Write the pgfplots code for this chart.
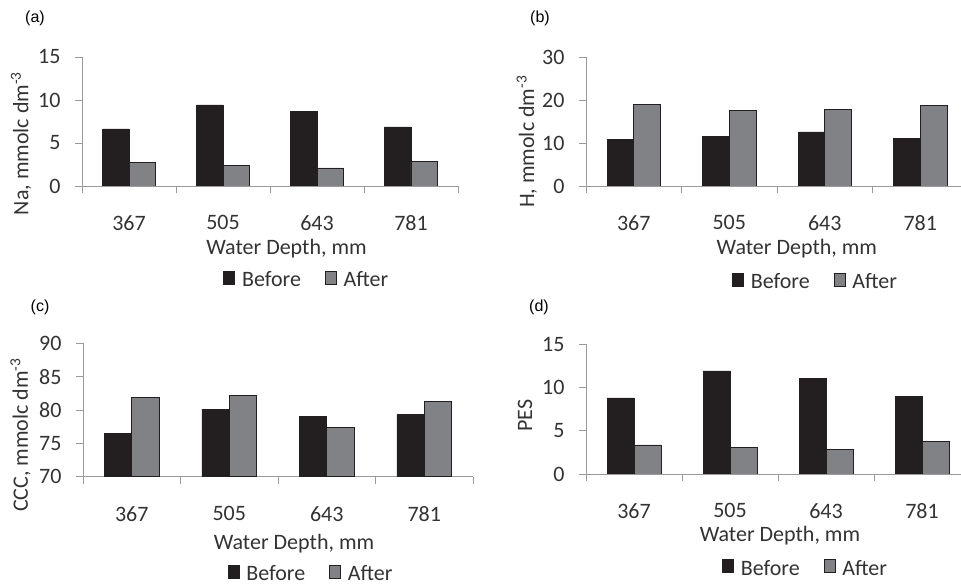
\documentclass[border=0pt]{standalone}
\usepackage{pgfplots}
\pgfplotsset{compat=1.18}
\usepackage{fontspec}
\setmainfont{Carlito}
\newfontfamily\arialfont{Liberation Sans}
\definecolor{before}{HTML}{231F20}
\definecolor{after}{HTML}{818285}
\definecolor{axisgray}{HTML}{9A9A9A}
\definecolor{txt}{HTML}{333333}
\newcommand\fs{\fontsize{22}{26}\selectfont}
\newcommand\pl{\arialfont\fontsize{16}{18}\selectfont}

\pgfplotsset{
 panel/.style={
   scale only axis, anchor=south west,
   xmin=-0.5, xmax=3.5,
   xtick={0,1,2,3}, xticklabels={367,505,643,781},
   minor xtick={-0.5,0.5,1.5,2.5,3.5},
   major tick length=0pt, minor tick length=7pt, tick align=outside,
   axis x line*=bottom, axis y line*=left,
   axis line style={draw=axisgray, line width=0.8pt, -},
   tick style={draw=axisgray, line width=0.8pt},
   tick label style={font=\fs, text=txt},
   xticklabel style={yshift=-26pt},
   yticklabel style={xshift=-18pt},
   /pgf/number format/assume math mode=true,
   label style={font=\fs, text=txt},
   xlabel={Water Depth, mm},
   legend columns=2,
   legend style={draw=none, fill=none, font=\fs, text=txt, legend cell align=left,
     /tikz/every odd column/.append style={column sep=5pt},
     /tikz/every even column/.append style={column sep=22pt}},
 },
 leg/.style={legend image code/.code={\draw[##1, line width=0.6pt, draw=before] (0pt,-4.5pt) rectangle (11pt,8.5pt);}},
 bef/.style={ybar, bar width=0.28, bar shift=-0.14, fill=before, draw=before, line width=0.6pt, leg},
 aft/.style={ybar, bar width=0.28, bar shift=0.14, fill=after, draw=before, line width=0.6pt, leg},
}

\begin{document}
\begin{tikzpicture}
\path[use as bounding box] (0pt,0pt) rectangle (961pt,585pt);

% (a)
\node[font=\pl] at (35pt,567pt) {(a)};
\begin{axis}[panel, at={(82pt,399pt)}, width=376pt, height=129pt,
  ymin=0, ymax=15, ytick={0,5,10,15}, minor ytick={0,5,10,15},
  ylabel={Na, mmolc dm\textsuperscript{-3}},
  ylabel style={at={(axis description cs:-0.162,0.33)}, anchor=center},
  xlabel style={at={(axis description cs:0.544,-0.483)}, anchor=center},
  legend style={at={(axis description cs:0.598,-0.729)}, anchor=center}]
\addplot[bef] coordinates {(0,6.63) (1,9.42) (2,8.64) (3,6.86)};
\addplot[aft] coordinates {(0,2.75) (1,2.36) (2,2.10) (3,2.87)};
\legend{Before, After}
\end{axis}

% (b)
\node[font=\pl] at (540pt,567pt) {(b)};
\begin{axis}[panel, at={(586pt,399pt)}, width=382pt, height=129pt,
  ymin=0, ymax=30, ytick={0,10,20,30}, minor ytick={0,10,20,30},
  ylabel={H, mmolc dm\textsuperscript{-3}},
  ylabel style={at={(axis description cs:-0.155,0.343)}, anchor=center},
  xlabel style={at={(axis description cs:0.552,-0.483)}, anchor=center},
  legend style={at={(axis description cs:0.601,-0.742)}, anchor=center}]
\addplot[bef] coordinates {(0,10.8) (1,11.6) (2,12.6) (3,11.1)};
\addplot[aft] coordinates {(0,19.0) (1,17.5) (2,17.8) (3,18.8)};
\legend{Before, After}
\end{axis}

% (c)
\node[font=\pl] at (40pt,278pt) {(c)};
\begin{axis}[panel, at={(83pt,108.3pt)}, width=390pt, height=133.3pt,
  ymin=70, ymax=90, ytick={70,75,80,85,90}, minor ytick={70,75,80,85,90},
  ylabel={CCC, mmolc dm\textsuperscript{-3}},
  ylabel style={at={(axis description cs:-0.16,0.313)}, anchor=center},
  xlabel style={at={(axis description cs:0.541,-0.5)}, anchor=center},
  legend style={at={(axis description cs:0.585,-0.725)}, anchor=center}]
\addplot[bef] coordinates {(0,76.45) (1,80.15) (2,79.1) (3,79.36)};
\addplot[aft] coordinates {(0,81.9) (1,82.25) (2,77.35) (3,81.35)};
\legend{Before, After}
\end{axis}

% (d)
\node[font=\pl] at (539pt,278pt) {(d)};
\begin{axis}[panel, at={(586pt,111pt)}, width=384pt, height=130pt,
  ymin=0, ymax=15, ytick={0,5,10,15}, minor ytick={0,5,10,15},
  ylabel={PES},
  ylabel style={at={(axis description cs:-0.159,0.448)}, anchor=center},
  xlabel style={at={(axis description cs:0.505,-0.475)}, anchor=center},
  legend style={at={(axis description cs:0.572,-0.725)}, anchor=center}]
\addplot[bef] coordinates {(0,8.77) (1,11.9) (2,11.04) (3,8.92)};
\addplot[aft] coordinates {(0,3.35) (1,3.08) (2,2.85) (3,3.73)};
\legend{Before, After}
\end{axis}
\end{tikzpicture}
\end{document}
